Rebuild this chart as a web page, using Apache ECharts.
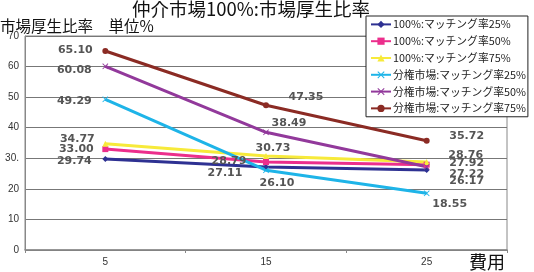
<!DOCTYPE html>
<html>
<head>
<meta charset="utf-8">
<script src="https://cdn.jsdelivr.net/npm/echarts@6/dist/echarts.min.js"></script>
<style>
  html, body { margin: 0; padding: 0; background: #fff; }
  #chart { width: 534px; height: 272px; }
</style>
</head>
<body>
<div id="chart"></div>
<script>
// データ
const categories = ['5', '15', '25']
const yTickLabels = ['0', '10', '20', '30.', '40', '50', '60', '70']
const seriesNames = [
  '100%:マッチング率25%',
  '100%:マッチング率50%',
  '100%:マッチング率75%',
  '分権市場:マッチング率25%',
  '分権市場:マッチング率50%',
  '分権市場:マッチング率75%'
]
const naka25 = [29.74, 27.11, 26.17]
const naka50 = [33.00, 28.79, 27.92]
const naka75 = [34.77, 30.73, 28.76]
const bunken25 = [49.29, 26.10, 18.55]
const bunken50 = [60.08, 38.49, 27.22]
const bunken75 = [65.10, 47.35, 35.72]
const seriesValues = [naka25, naka50, naka75, bunken25, bunken50, bunken75]

// 見た目
const colors = ['#2e3192', '#ec2e8c', '#f7ea3a', '#1eb4e8', '#92399b', '#8b2b24']
const xMark = 'path://M0,1L1,0L5,4L9,0L10,1L6,5L10,9L9,10L5,6L1,10L0,9L4,5Z'
const symbols = ['diamond', 'rect', 'triangle', xMark, xMark, 'circle']
// ラベルの位置（点からのずれ）
const labelOffsets = [
  [[-31, 2], [-41, 6], [40, 11]],
  [[-29, 0], [-37, -1], [40, -2]],
  [[-28, -5], [7, -8], [39, -7]],
  [[-31, 2], [11, 13], [23, 11]],
  [[-31, 4], [23, -9], [40, 7]],
  [[-30, -1], [40, -8], [40, -5]]
]

const chart = echarts.init(document.getElementById('chart'))

const series = seriesNames.map((name, i) => ({
  name,
  type: 'line',
  data: seriesValues[i].map((v, j) => ({
    value: v,
    label: { offset: labelOffsets[i][j] }
  })),
  symbol: symbols[i],
  symbolSize: 6,
  lineStyle: { width: 3, color: colors[i] },
  itemStyle: { color: colors[i] },
  label: {
    show: true,
    position: 'inside',
    formatter: p => p.value.toFixed(2),
    fontFamily: 'DejaVu Sans',
    fontSize: 11,
    fontWeight: 'bold',
    color: '#555'
  },
  animation: false
}))

chart.setOption({
  color: colors,
  title: [
    {
      text: '仲介市場100%:市場厚生比率',
      left: 132,
      top: 0,
      padding: 0,
      textStyle: { fontFamily: 'Noto Sans CJK JP', fontSize: 18.5, fontWeight: 'normal', color: '#111' }
    },
    {
      text: '市場厚生比率　単位%',
      left: 0,
      top: 18,
      padding: 0,
      textStyle: { fontFamily: 'Noto Sans CJK JP', fontSize: 15.5, fontWeight: 'normal', color: '#111' }
    }
  ],
  legend: {
    orient: 'vertical',
    left: 366,
    top: 16,
    padding: [3, 2, 3, 4],
    itemGap: 6,
    itemWidth: 20,
    itemHeight: 9,
    backgroundColor: '#fff',
    borderColor: '#222',
    borderWidth: 1,
    borderRadius: 0,
    textStyle: { fontFamily: 'Noto Sans CJK JP', fontSize: 10.8, color: '#222', padding: [0, 0, 0, -3] },
    data: seriesNames
  },
  grid: {
    left: 25, right: 27, top: 36, bottom: 22,
    show: true, borderColor: '#888', borderWidth: 1
  },
  xAxis: {
    type: 'category',
    data: categories,
    boundaryGap: true,
    name: '費用',
    nameLocation: 'end',
    nameGap: -2,
    nameTextStyle: {
      fontFamily: 'Noto Sans CJK JP', fontSize: 18, color: '#111',
      align: 'right', verticalAlign: 'top', padding: [3, 0, 0, 0]
    },
    axisLine: { lineStyle: { color: '#888', width: 1.5 } },
    axisTick: { show: true, length: 3, lineStyle: { color: '#888' } },
    axisLabel: { fontFamily: 'Liberation Sans', fontSize: 10, color: '#333', margin: 7 }
  },
  yAxis: {
    type: 'value',
    min: 0,
    max: 70,
    interval: 10,
    axisLine: { show: true, lineStyle: { color: '#888' } },
    axisTick: { show: false },
    axisLabel: {
      fontFamily: 'Liberation Sans', fontSize: 10, color: '#333', margin: 6,
      formatter: v => yTickLabels[Math.round(v / 10)]
    },
    splitLine: { lineStyle: { color: '#777', width: 1 } }
  },
  series
})
</script>
</body>
</html>
